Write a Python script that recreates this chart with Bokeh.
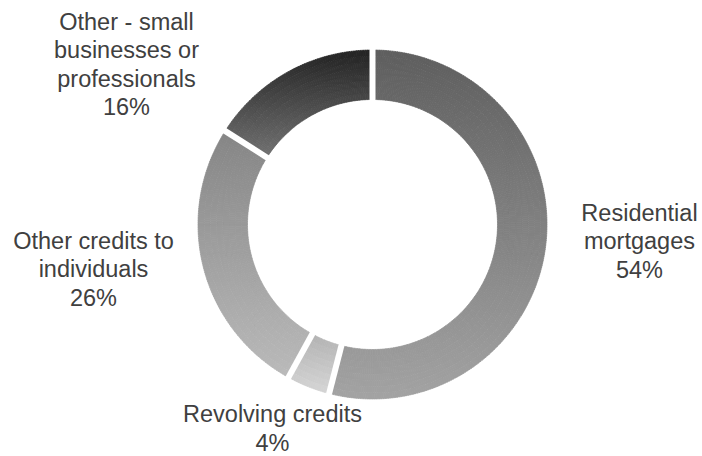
import numpy as np
from bokeh.plotting import figure
from bokeh.models import Range1d, ColumnDataSource
from bokeh.core.properties import value
from bokeh.embed import file_html
from bokeh.resources import INLINE

# ---- data ----
categories = ["Residential mortgages", "Revolving credits", "Other credits to individuals",
              "Other - small businesses or professionals"]
shares = [54, 4, 26, 16]
labels = ["Residential\nmortgages\n54%", "Revolving credits\n4%",
          "Other credits to\nindividuals\n26%", "Other - small\nbusinesses or\nprofessionals\n16%"]

# ---- styles / layout ----
grad_top = ["#5e5e5e", "#b2b2b2", "#858585", "#232323"]
grad_bot = ["#a3a3a3", "#d6d6d6", "#bababa", "#727272"]
label_pos = [(639, 241), (272, 428), (93, 269), (126, 64)]  # image px (x, y)

W, H = 702, 456
IMG_H = 456
CX, CY = 372, IMG_H - 224
R_OUT, R_IN = 174.5, 125
GAP = 6

def hex2rgb(h):
    h = h.lstrip("#")
    return np.array([int(h[i:i + 2], 16) for i in (0, 2, 4)], dtype=float)

def rgb2hex(c):
    return "#%02x%02x%02x" % tuple(int(round(v)) for v in c)

p = figure(width=W, height=H, output_backend="svg", toolbar_location=None,
           x_range=Range1d(0, W), y_range=Range1d(IMG_H - H, IMG_H),
           min_border=0)
p.axis.visible = False
p.grid.visible = False
p.outline_line_color = None
p.background_fill_color = "white"

total = float(sum(shares))
cum = np.concatenate([[0.0], np.cumsum(shares) / total])

xs, ys, r0s, r1s, a0s, a1s, cols = [], [], [], [], [], [], []
n_rad = 8
radii = np.linspace(R_IN, R_OUT, n_rad + 1)
for i in range(len(shares)):
    a_start = np.pi / 2 - 2 * np.pi * cum[i + 1]
    a_end = np.pi / 2 - 2 * np.pi * cum[i]
    n_ang = max(4, int(np.degrees(a_end - a_start) / 0.75))
    angs = np.linspace(a_start, a_end, n_ang + 1)
    tt = np.linspace(a_start, a_end, 400)
    yy = np.concatenate([CY + R_OUT * np.sin(tt), CY + R_IN * np.sin(tt)])
    ymin, ymax = yy.min(), yy.max()
    ct, cb = hex2rgb(grad_top[i]), hex2rgb(grad_bot[i])
    for j in range(n_ang):
        am = 0.5 * (angs[j] + angs[j + 1])
        for k in range(n_rad):
            rm = 0.5 * (radii[k] + radii[k + 1])
            ym = CY + rm * np.sin(am)
            f = (ymax - ym) / (ymax - ymin)
            c = ct + (cb - ct) * f
            xs.append(CX); ys.append(CY)
            r0s.append(radii[k]); r1s.append(radii[k + 1])
            a0s.append(angs[j]); a1s.append(angs[j + 1] + 0.002)
            cols.append(rgb2hex(c))

src = ColumnDataSource(dict(x=xs, y=ys, r0=r0s, r1=r1s, a0=a0s, a1=a1s, c=cols))
p.annular_wedge(x="x", y="y", inner_radius="r0", outer_radius="r1",
                start_angle="a0", end_angle="a1", fill_color="c", line_color="c",
                line_width=0.6, source=src)

# white separators at slice boundaries
sx0, sy0, sx1, sy1 = [], [], [], []
for i in range(len(shares)):
    a = np.pi / 2 - 2 * np.pi * cum[i]
    sx0.append(CX + (R_IN - 4) * np.cos(a)); sy0.append(CY + (R_IN - 4) * np.sin(a))
    sx1.append(CX + (R_OUT + 4) * np.cos(a)); sy1.append(CY + (R_OUT + 4) * np.sin(a))
p.segment(x0=sx0, y0=sy0, x1=sx1, y1=sy1, line_color="white", line_width=GAP)

# labels
p.text(x=[lp[0] for lp in label_pos], y=[IMG_H - lp[1] for lp in label_pos], text=labels,
       text_align="center", text_baseline="middle", text_font=value("Liberation Sans"),
       text_font_size="23.5px", text_color="#404040", text_line_height=1.08)

open("out.html", "w").write(file_html(p, INLINE))
